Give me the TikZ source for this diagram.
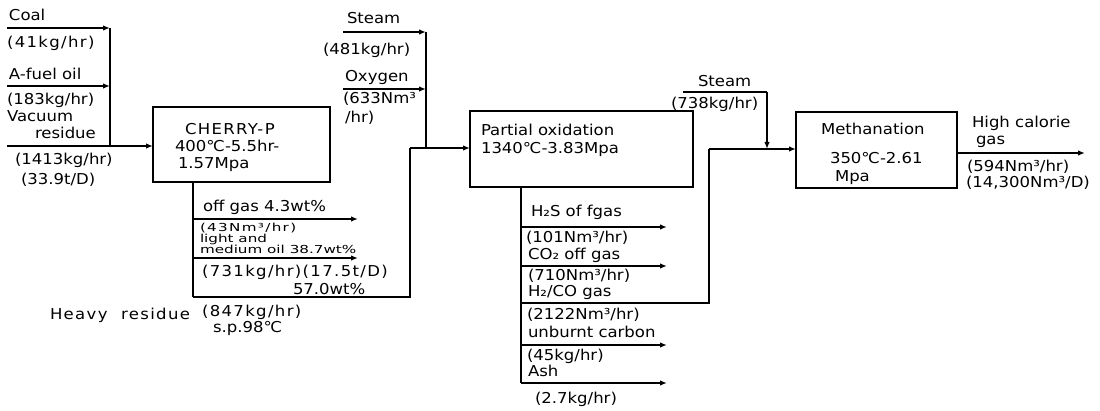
\documentclass[tikz,border=0pt]{standalone}
\usepackage{fontspec}
\setmainfont{DejaVu Sans}[FakeStretch=1.1]
\newfontfamily\smallfam{DejaVu Sans}[FakeStretch=1.38]
\newfontfamily\smallwide{DejaVu Sans}[FakeStretch=1.38,LetterSpace=12]
\newfontfamily\widefam{DejaVu Sans}[FakeStretch=1.1,LetterSpace=9]
\usetikzlibrary{arrows.meta}
\begin{document}
\begin{tikzpicture}[x=1pt,y=-1pt,
  every node/.style={inner sep=0pt,outer sep=0pt},
  lbl/.style={anchor=base west,font=\fontsize{15}{18}\selectfont},
  wlbl/.style={anchor=base west,font=\widefam\fontsize{15}{18}\selectfont},
  sml/.style={anchor=base west,font=\smallfam\fontsize{11}{13}\selectfont},
  smlw/.style={anchor=base west,font=\smallwide\fontsize{11}{13}\selectfont},
  unit/.style={draw,line width=1.9pt,minimum width=#1,minimum height=76pt},
  flow/.style={line width=1.8pt},
  arr/.style={flow,-{Latex[length=7pt,width=5.5pt]}}]
\useasboundingbox (0,0) rectangle (1100,411);

% units
\node[unit=177pt,minimum height=75pt] (CH) at (241.5,144.5) {};
\node[unit=223pt] (PO) at (581.5,149) {};
\node[unit=161pt] (ME) at (876.5,150) {};

% coordinates
\coordinate (coalS) at (7,28);   \coordinate (coalJ) at (110,28);
\coordinate (oilS) at (7,86);    \coordinate (oilJ) at (110,86);
\coordinate (vacS) at (7,146);   \coordinate (vacJ) at (110,146);
\coordinate (chB) at (193,182);  \coordinate (chBot) at (193,297);
\coordinate (offS) at (193,219); \coordinate (offE) at (358,219);
\coordinate (lmS) at (193,258);  \coordinate (lmE) at (358,258);
\coordinate (hrC) at (410,297);  \coordinate (hrU) at (410,148);
\coordinate (stS) at (343,32);   \coordinate (stJ) at (426,32);
\coordinate (oxS) at (343,89);   \coordinate (oxJ) at (426,89);
\coordinate (mixJ) at (426,148);
\coordinate (poB) at (521,187);  \coordinate (poBot) at (521,383);
\coordinate (h2sS) at (521,227); \coordinate (h2sE) at (667,227);
\coordinate (co2S) at (521,266); \coordinate (co2E) at (667,266);
\coordinate (synS) at (521,303); \coordinate (synC) at (709,303);
\coordinate (synU) at (709,149);
\coordinate (ubS) at (521,345);  \coordinate (ubE) at (667,345);
\coordinate (ashE) at (667,383);
\coordinate (st2S) at (683,92);  \coordinate (st2C) at (767,92);
\coordinate (st2J) at (767,149);
\coordinate (outE) at (1085,153);

% feed lines
\draw[arr] (coalS) -- (coalJ);
\draw[arr] (oilS) -- (oilJ);
\draw[flow] (coalJ) -- (vacJ);
\draw[arr] (vacS) -- (vacS -| CH.west);

% CHERRY-P products
\draw[flow] (chB) -- (chBot);
\draw[arr] (offS) -- (offE);
\draw[arr] (lmS) -- (lmE);
\draw[flow] (chBot) -- (hrC) -- (hrU);
\draw[arr] (hrU) -- (hrU -| PO.west);
\draw[arr] (stS) -- (stJ);
\draw[arr] (oxS) -- (oxJ);
\draw[flow] (stJ) -- (mixJ);

% Partial oxidation products
\draw[flow] (poB) -- (poBot);
\draw[arr] (h2sS) -- (h2sE);
\draw[arr] (co2S) -- (co2E);
\draw[arr] (ubS) -- (ubE);
\draw[arr] (poBot) -- (ashE);
\draw[flow] (synS) -- (synC) -- (synU);
\draw[arr] (synU) -- (synU -| ME.west);
\draw[flow] (st2S) -- (st2C);
\draw[arr] (st2C) -- (st2J);
\draw[arr] (ME.east |- outE) -- (outE);

% texts: feeds
\node[lbl] (tcoal) at (9,21) {Coal};
\node[wlbl] (tcoalf) at (7,48) {(41kg/hr)};
\node[lbl] (toil) at (9,80) {A-fuel oil};
\node[lbl] (toilf) at (7,105) {(183kg/hr)};
\node[lbl] (tvac1) at (7,122) {Vacuum};
\node[lbl] (tvac2) at (35,139) {residue};
\node[lbl] (tvacf1) at (15,165) {(1413kg/hr)};
\node[lbl] (tvacf2) at (21,185) {(33.9t/D)};

% CHERRY-P
\node[wlbl] (tch1) at (185,135) {CHERRY-P};
\node[lbl] (tch2) at (175,152) {400℃-5.5hr-};
\node[lbl] (tch3) at (178,169) {1.57Mpa};
\node[lbl] (toff) at (203,212) {off gas 4.3wt\%};
\node[smlw] (toff2) at (200,232) {(43Nm³/hr)};
\node[sml] (tlm1) at (200,243) {light and};
\node[sml] (tlm2) at (200,254) {medium oil 38.7wt\%};
\node[wlbl] (tlm3) at (202,277) {(731kg/hr)(17.5t/D)};
\node[lbl] (tlm4) at (293,295) {57.0wt\%};
\node[wlbl] (thr1) at (50,320) {Heavy\hspace{0.9em}residue};
\node[wlbl] (thr2) at (202,317) {(847kg/hr)};
\node[lbl] (thr3) at (213,333) {s.p.98℃};

% steam / oxygen
\node[lbl] (tst) at (347,24) {Steam};
\node[lbl] (tstf) at (323,55) {(481kg/hr)};
\node[lbl] (tox) at (345,82) {Oxygen};
\node[lbl] (toxf1) at (343,104) {(633Nm³};
\node[lbl] (toxf2) at (345,123) {/hr)};

% Partial oxidation
\node[lbl] (tpo1) at (481,136) {Partial oxidation};
\node[lbl] (tpo2) at (481,154) {1340℃-3.83Mpa};
\node[lbl] (th2s) at (531,217) {H₂S of fgas};
\node[lbl] (th2sf) at (526,243) {(101Nm³/hr)};
\node[lbl] (tco2) at (528,260) {CO₂ off gas};
\node[lbl] (tco2f) at (528,281) {(710Nm³/hr)};
\node[lbl] (tsyn) at (528,297) {H₂/CO gas};
\node[lbl] (tsynf) at (527,320) {(2122Nm³/hr)};
\node[lbl] (tub) at (528,338) {unburnt carbon};
\node[lbl] (tubf) at (527,360) {(45kg/hr)};
\node[lbl] (tash) at (528,377) {Ash};
\node[lbl] (tashf) at (535,403) {(2.7kg/hr)};

% Methanation
\node[lbl] (tst2) at (698,87) {Steam};
\node[lbl] (tst2f) at (671,109) {(738kg/hr)};
\node[lbl] (tme1) at (821,135) {Methanation};
\node[lbl] (tme2) at (830,164) {350℃-2.61};
\node[lbl] (tme3) at (835,182) {Mpa};
\node[lbl] (thc1) at (972,128) {High calorie};
\node[lbl] (thc2) at (976,145) {gas};
\node[lbl] (thcf1) at (967,172) {(594Nm³/hr)};
\node[lbl] (thcf2) at (966,188) {(14,300Nm³/D)};
\end{tikzpicture}
\end{document}
